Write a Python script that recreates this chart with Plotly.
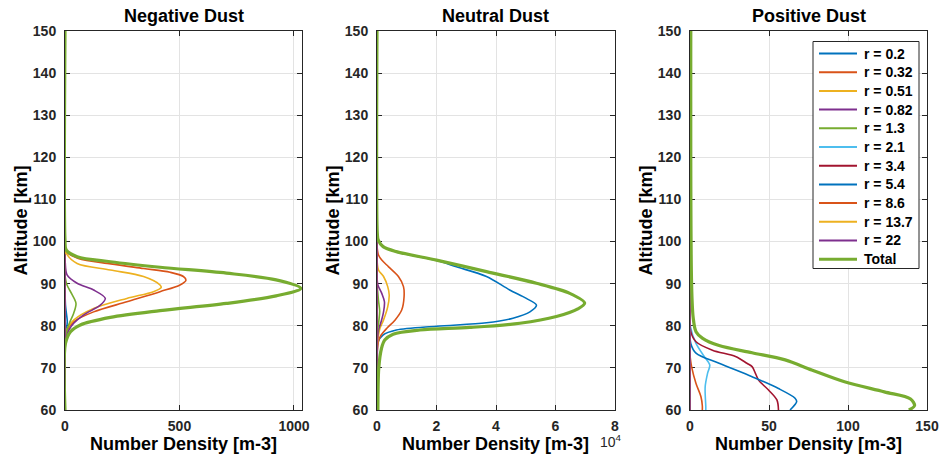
import plotly.graph_objects as go

# ---------------- data ----------------
LABELS = ["r = 0.2", "r = 0.32", "r = 0.51", "r = 0.82", "r = 1.3", "r = 2.1",
          "r = 3.4", "r = 5.4", "r = 8.6", "r = 13.7", "r = 22", "Total"]
PANEL_TITLES = ["Negative Dust", "Neutral Dust", "Positive Dust"]
Y_TICKS = [60, 70, 80, 90, 100, 110, 120, 130, 140, 150]
NEG_XTICKS = [0, 500, 1000]
NEU_XTICKS = [0, 20000, 40000, 60000, 80000]
NEU_XTICKTEXT = ["0", "2", "4", "6", "8"]
POS_XTICKS = [0, 50, 100, 150]

ZERO_ALT = [60, 100]
ZERO_VAL = [0, 0]

# Negative dust
neg_r02_alt = [90, 85, 83, 81, 79, 77, 60]
neg_r02 = [0, 2, 6, 10, 6, 1, 0]
neg_r032_alt = [100, 97.5, 96.0, 94.7, 93.6, 92.7, 91.7, 90.8, 89.7, 88.1, 85.7, 83.3, 81.0, 79.0, 77.0, 60]
neg_r032 = [0, 8, 58, 200, 343, 459, 517, 528, 502, 415, 270, 125, 39, 10, 2, 0]
neg_r051_alt = [100, 98.5, 97, 94.8, 93.25, 91.7, 89.7, 89.1, 88.1, 86.5, 84.1, 81.4, 79.4, 77.5, 60]
neg_r051 = [0, 1, 8, 53, 198, 343, 415, 420, 386, 270, 125, 39, 10, 2, 0]
neg_r082_alt = [98, 95, 92.1, 90.1, 88.5, 86.5, 84.9, 82.6, 80.6, 79.0, 77.4, 75, 60]
neg_r082 = [0, 1, 9, 53, 125, 176, 154, 82, 38, 17, 3, 0, 0]
neg_r13_alt = [92, 89.8, 87.5, 85.3, 83, 80.5, 78, 75, 60]
neg_r13 = [0, 8, 30, 48, 38, 18, 4, 0, 0]
neg_r22_alt = [60, 97]
neg_r22 = [0, 0]
neg_total_alt = [150, 100.4, 98.0, 96.4, 95.2, 93.9, 92.5, 90.9, 88.9, 87.1, 85.3, 83.6, 82.0, 80.2, 78.6, 75.8, 60]
neg_total = [0, 0, 5, 53, 198, 415, 705, 922, 1030, 922, 705, 415, 198, 67, 24, 2, 0]

# Neutral dust
neu_r02_alt = [101, 100.4, 98.8, 97.6, 95.6, 94.0, 91.7, 88.5, 86.5, 84.9, 83.3, 81.8, 80.7, 79.9, 79.0, 77.8, 76.2, 72, 60]
neu_r02 = [0, 300, 1900, 6200, 19500, 26700, 36800, 44600, 50200, 53600, 51400, 45700, 36800, 20000, 6500, 2000, 400, 100, 0]
neu_r032_alt = [99, 96.8, 95.6, 94.0, 91.7, 89.3, 86.9, 83.75, 81.4, 79.4, 77.8, 76.6, 74, 60]
neu_r032 = [0, 500, 1600, 3900, 7200, 8900, 9100, 8300, 6100, 3300, 1400, 600, 100, 0]
neu_r051_alt = [96, 93.25, 91.7, 89.3, 87.3, 84.5, 81.4, 79.4, 77.8, 75, 60]
neu_r051 = [0, 500, 2200, 3600, 4100, 3600, 2200, 1000, 500, 100, 0]
neu_r082_alt = [92, 89.7, 87.7, 85.7, 83.3, 81.0, 79.0, 76, 60]
neu_r082 = [0, 300, 1600, 2500, 2200, 1400, 500, 100, 0]
neu_r13_alt = [90, 86, 83.5, 81, 78, 60]
neu_r13 = [0, 500, 900, 600, 100, 0]
neu_r22_alt = [60, 100]
neu_r22 = [0, 0]
neu_total_alt = [150, 102, 100.4, 98.8, 97.6, 95.6, 92.85, 90.1, 87.7, 85.4, 84, 82.2, 80.6, 79.6, 79.0, 78.0, 76.6, 74.6, 70, 60]
neu_total = [0, 100, 400, 2050, 6500, 20000, 36800, 53600, 64800, 69800, 67500, 60300, 48000, 31200, 14400, 5400, 2600, 1500, 600, 300]

# Positive dust
pos_r21_alt = [82, 79.8, 75.8, 72.7, 70.7, 68.7, 65.5, 60.8, 60]
pos_r21 = [0, 0.3, 3.8, 9, 12.5, 11.1, 9.6, 10, 10]
pos_r34_alt = [84, 78.6, 76.2, 74.2, 72.7, 71.1, 70.3, 68.7, 67.1, 64.75, 62.4, 60]
pos_r34 = [0, 0.5, 3.8, 14.2, 28.8, 36, 39.3, 41.4, 43.4, 49.7, 55, 56]
pos_r54_alt = [80, 75.8, 73.5, 71.1, 67.9, 65.1, 62.8, 62.0, 60]
pos_r54 = [0, 0.5, 3.8, 18.4, 39.3, 56, 66.5, 67.5, 63.3]
pos_r86_alt = [73, 70.3, 66.3, 63.2, 61, 60]
pos_r86 = [0, 1, 3.8, 6.9, 7.8, 7.8]
pos_r22_alt = [60, 90]
pos_r22 = [0, 0]
pos_total_alt = [150, 90, 82, 78.6, 77.0, 75.3, 73.6, 71.9, 69.5, 66.7, 64.3, 62.6, 61.0, 60]
pos_total = [0.5, 1, 2, 3.8, 8, 18.4, 39.3, 60.2, 77, 97.8, 123, 139.6, 142.1, 138.5]

# ---------------- style ----------------
COLORS = ["#0072BD", "#D95319", "#EDB120", "#7E2F8E", "#77AC30", "#4DBEEE",
          "#A2142F", "#0072BD", "#D95319", "#EDB120", "#7E2F8E", "#77AC30"]
W, H = 941, 464
FONT = "Liberation Sans, Arial, sans-serif"
TXT = "#000000"
AX = "#262626"

panels = [
    [(neg_r02_alt, neg_r02), (neg_r032_alt, neg_r032), (neg_r051_alt, neg_r051),
     (neg_r082_alt, neg_r082), (neg_r13_alt, neg_r13), (ZERO_ALT, ZERO_VAL),
     (ZERO_ALT, ZERO_VAL), (ZERO_ALT, ZERO_VAL), (ZERO_ALT, ZERO_VAL),
     (ZERO_ALT, ZERO_VAL), (neg_r22_alt, neg_r22), (neg_total_alt, neg_total)],
    [(neu_r02_alt, neu_r02), (neu_r032_alt, neu_r032), (neu_r051_alt, neu_r051),
     (neu_r082_alt, neu_r082), (neu_r13_alt, neu_r13), (ZERO_ALT, ZERO_VAL),
     (ZERO_ALT, ZERO_VAL), (ZERO_ALT, ZERO_VAL), (ZERO_ALT, ZERO_VAL),
     (ZERO_ALT, ZERO_VAL), (neu_r22_alt, neu_r22), (neu_total_alt, neu_total)],
    [(ZERO_ALT, ZERO_VAL), (ZERO_ALT, ZERO_VAL), (ZERO_ALT, ZERO_VAL),
     (ZERO_ALT, ZERO_VAL), (ZERO_ALT, ZERO_VAL), (pos_r21_alt, pos_r21),
     (pos_r34_alt, pos_r34), (pos_r54_alt, pos_r54), (pos_r86_alt, pos_r86),
     (ZERO_ALT, ZERO_VAL), (pos_r22_alt, pos_r22), (pos_total_alt, pos_total)],
]

# pixel boxes of the three axes
BOX_X = [(65, 302), (377, 615), (690, 927)]
BOX_TOP, BOX_BOT = 31, 410
X_RANGES = [[0, 1035], [0, 80000], [0, 150]]

fig = go.Figure()
for p, series in enumerate(panels):
    xa = "x" if p == 0 else f"x{p+1}"
    ya = "y" if p == 0 else f"y{p+1}"
    for i, (alt, val) in enumerate(series):
        is_total = (i == len(series) - 1)
        fig.add_trace(go.Scatter(
            x=val, y=alt, mode="lines", name=LABELS[i],
            line=dict(color=COLORS[i], width=3.2 if is_total else 1.6,
                      shape="spline", smoothing=0.9),
            xaxis=xa, yaxis=ya, showlegend=False, hoverinfo="skip"))

axis_common = dict(showline=True, mirror="ticks", linecolor=AX, linewidth=1,
                   ticks="inside", ticklen=5, tickcolor=AX, tickwidth=1,
                   showgrid=True, gridcolor="#e3e3e3", gridwidth=1,
                   zeroline=False, layer="below traces", automargin=False,
                   tickfont=dict(family=FONT, size=14, color=AX, weight="bold"))

layout = dict(width=W, height=H, margin=dict(l=0, r=0, t=0, b=0, pad=0, autoexpand=False),
              paper_bgcolor="white", plot_bgcolor="white", showlegend=False,
              template="none")


def note(text, px, py, size, color=TXT, angle=0, xanchor="center"):
    return dict(text=text, x=px / W, y=1 - py / H, xref="paper", yref="paper",
                xanchor=xanchor, yanchor="middle", showarrow=False,
                textangle=angle, font=dict(family=FONT, size=size, color=color))


ann = []
shapes = []
for p in range(3):
    x0, x1 = BOX_X[p]
    xkey = "xaxis" if p == 0 else f"xaxis{p+1}"
    ykey = "yaxis" if p == 0 else f"yaxis{p+1}"
    xa_cfg = dict(axis_common, domain=[x0 / W, x1 / W], range=X_RANGES[p],
                  anchor="y" if p == 0 else f"y{p+1}", ticklabelstandoff=3)
    if p == 0:
        xa_cfg["tickvals"] = NEG_XTICKS
    elif p == 1:
        xa_cfg["tickvals"] = NEU_XTICKS
        xa_cfg["ticktext"] = NEU_XTICKTEXT
    else:
        xa_cfg["tickvals"] = POS_XTICKS
    layout[xkey] = xa_cfg
    layout[ykey] = dict(axis_common, domain=[1 - BOX_BOT / H, 1 - BOX_TOP / H],
                        range=[60, 150], tickvals=Y_TICKS,
                        anchor="x" if p == 0 else f"x{p+1}", ticklabelstandoff=5)
    cx = (x0 + x1) / 2
    ann.append(note("<b>" + PANEL_TITLES[p] + "</b>", cx, 16, 18))
    ann.append(note("<b>Number Density [m-3]</b>", cx, 444, 18))
    ann.append(note("<b>Altitude [km]</b>", x0 - 45, (BOX_TOP + BOX_BOT) / 2, 18, angle=-90))
ann.append(note("10<sup>4</sup>", 611, 441, 14, color=AX))

# legend box (drawn inside the positive-dust axes)
LEG_L, LEG_R, LEG_T, LEG_B = 813, 919, 41.5, 268.5
ROW0, ROW_STEP = 53.5, 18.7
shapes.append(dict(type="rect", xref="paper", yref="paper",
                   x0=LEG_L / W, x1=LEG_R / W, y0=1 - LEG_B / H, y1=1 - LEG_T / H,
                   line=dict(color=AX, width=1), fillcolor="white", layer="above"))
for i, lab in enumerate(LABELS):
    yy = ROW0 + i * ROW_STEP
    shapes.append(dict(type="line", xref="paper", yref="paper",
                       x0=819 / W, x1=857 / W, y0=1 - yy / H, y1=1 - yy / H,
                       line=dict(color=COLORS[i], width=3 if lab == "Total" else 2),
                       layer="above"))
    ann.append(note("<b>" + lab + "</b>", 862, yy, 14, xanchor="left"))

layout["annotations"] = ann
layout["shapes"] = shapes
fig.update_layout(**layout)
fig.write_html("out.html")
